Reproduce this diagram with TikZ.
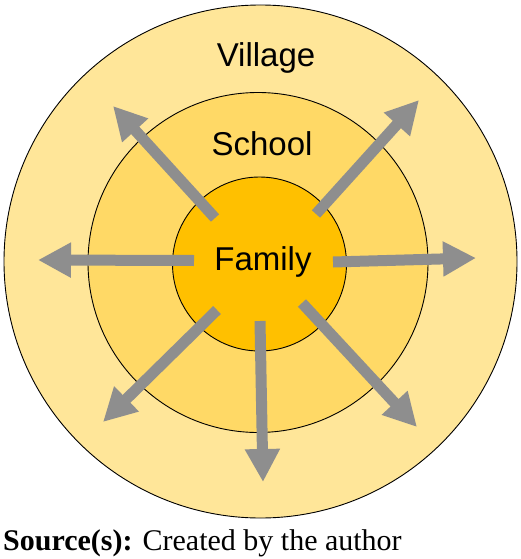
\documentclass[tikz,border=0pt]{standalone}
\usepackage{fontspec}
\setmainfont{Liberation Serif}
\newfontfamily\arialish{Liberation Sans}
\usetikzlibrary{arrows.meta}
\definecolor{villagefill}{HTML}{FFE699}
\definecolor{schoolfill}{HTML}{FFD966}
\definecolor{familyfill}{HTML}{FFC000}
\definecolor{arrowgray}{HTML}{8E8E8E}
\tikzset{
  ring/.style={circle, draw=black, line width=0.9pt, inner sep=0pt},
  lbl/.style={font=\arialish\fontsize{33}{40}\selectfont, anchor=base, inner sep=0pt},
  spread/.style={draw=arrowgray, line width=11pt,
    -{Triangle[width=33pt,length=33pt]}},
}
\begin{document}
\begin{tikzpicture}[x=1pt,y=-1pt]
\useasboundingbox (0,0) rectangle (520,559);
\fill[white] (0,0) rectangle (520,559);
\node[ring, fill=villagefill, minimum size=513pt] (village) at (260.5,261.5) {};
\node[ring, fill=schoolfill, minimum size=340pt] (school) at (258,262.5) {};
\node[ring, fill=familyfill, minimum size=174pt] (family) at (259.5,264) {};
\node[lbl] (vt) at (266,67) {Village};
\node[lbl] (st) at (262,155) {School};
\node[lbl] (ft) at (263,270) {Family};
% arrow start and tip coordinates
\coordinate (s1) at (215,218); \coordinate (t1) at (113,106);
\coordinate (s2) at (316,214); \coordinate (t2) at (419,100);
\coordinate (s3) at (194,260.5); \coordinate (t3) at (38,260);
\coordinate (s4) at (333,262); \coordinate (t4) at (476,258);
\coordinate (s5) at (217,310); \coordinate (t5) at (103,422);
\coordinate (s6) at (260,321); \coordinate (t6) at (263,482);
\coordinate (s7) at (302,303); \coordinate (t7) at (417,427);
\foreach \i in {1,...,7} { \draw[spread] (s\i) -- (t\i); }
\node[anchor=base west, inner sep=0pt, font=\fontsize{30}{35}\selectfont] (src) at (3,550)
  {\textbf{Source(s):} Created by the author};
\end{tikzpicture}
\end{document}
